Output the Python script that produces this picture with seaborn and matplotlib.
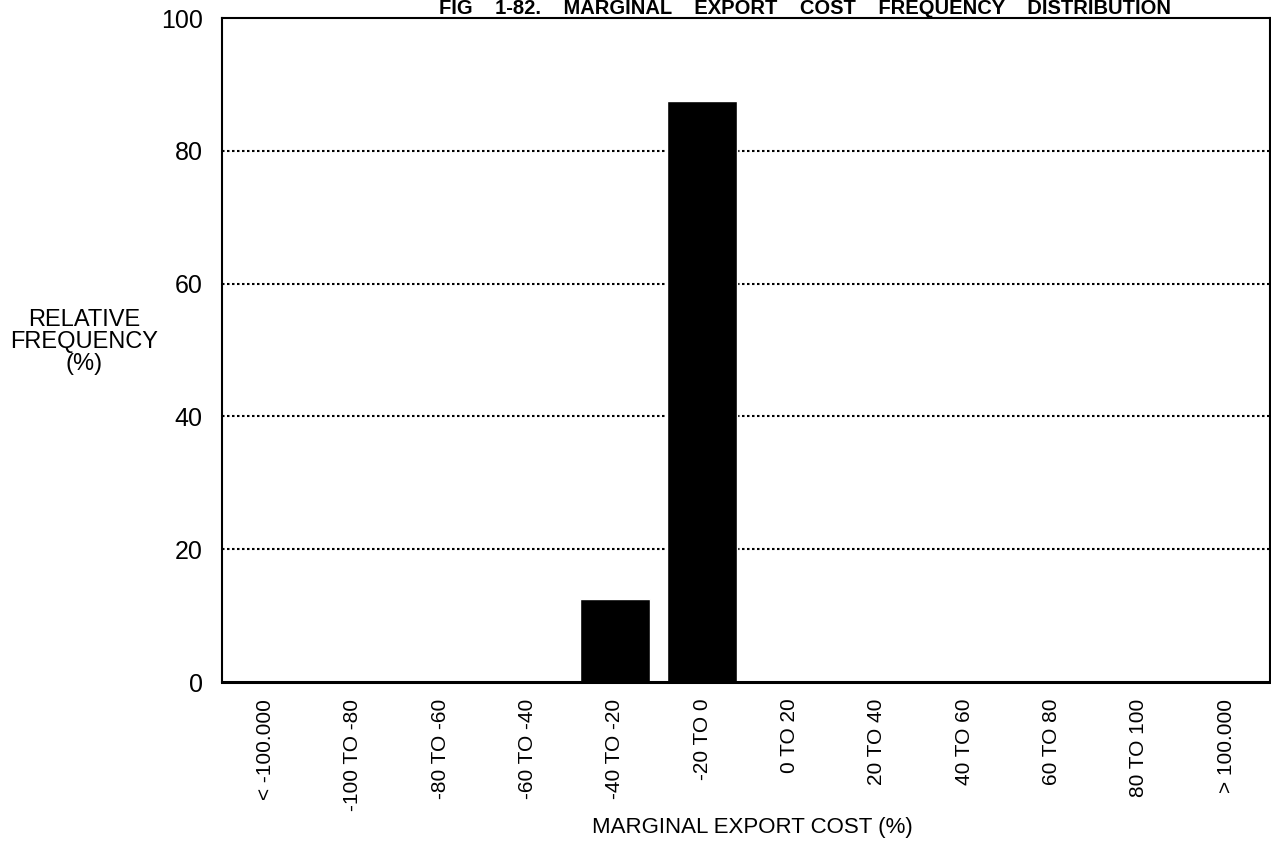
import numpy as np
import pandas as pd
import matplotlib
matplotlib.use("Agg")
import matplotlib.pyplot as plt
import seaborn as sns

categories = ["< -100.000", "-100 TO -80", "-80 TO -60", "-60 TO -40", "-40 TO -20",
              "-20 TO 0", "0 TO 20", "20 TO 40", "40 TO 60", "60 TO 80",
              "80 TO 100", "> 100.000"]
frequency = [0, 0, 0, 0, 12.5, 87.5, 0, 0, 0, 0, 0, 0]
y_ticks = [0, 20, 40, 60, 80, 100]

sns.set_style("white")
plt.rcParams["font.family"] = ["Liberation Sans", "DejaVu Sans"]
plt.rcParams["text.color"] = "black"
plt.rcParams["xtick.color"] = "black"
plt.rcParams["ytick.color"] = "black"
plt.rcParams["axes.labelcolor"] = "black"

df = pd.DataFrame({"bin": categories, "freq": frequency})

fig = plt.figure(figsize=(12.71, 8.42), dpi=100)
ax = fig.add_axes([222 / 1271, 1 - 682 / 842, 1048 / 1271, 664 / 842])

for y in [20, 40, 60, 80]:
    ax.axhline(y, color="black", linestyle=(0, (1.2, 1.2)), linewidth=1.5, zorder=0)

sns.barplot(data=df, x="bin", y="freq", order=categories, color="black",
            width=0.8, saturation=1, ax=ax, zorder=2)

ax.set_xlim(-0.5, len(categories) - 0.5)
ax.set_ylim(0, 100)
ax.set_yticks(y_ticks)
ax.set_yticklabels([str(t) for t in y_ticks], fontsize=18)
ax.tick_params(axis="y", direction="in", length=10, width=1.5, pad=14, color="black")
ax.tick_params(axis="x", length=0, pad=12)
ax.set_xticks(range(len(categories)))
ax.set_xticklabels(categories, rotation=90, fontsize=15, va="top")

for side in ["left", "top", "bottom", "right"]:
    ax.spines[side].set_color("black")
    ax.spines[side].set_linewidth(1.5)
ax.spines["bottom"].set_linewidth(2.2)

ax.set_xlabel("")
ax.set_ylabel("")
fig.text(752 / 1271, 1 - 828 / 842, "MARGINAL EXPORT COST (%)", ha="center", va="center",
         fontsize=16)
fig.text(84 / 1271, 1 - 342 / 842, "RELATIVE\nFREQUENCY\n(%)", ha="center", va="center",
         fontsize=17, linespacing=1.0)

fig.text(805 / 1271, 1 - 9 / 842,
         "FIG    1-82.    MARGINAL    EXPORT    COST    FREQUENCY    DISTRIBUTION",
         ha="center", va="center", fontsize=14.5, fontweight="bold")

fig.savefig("out.png", dpi=100)
